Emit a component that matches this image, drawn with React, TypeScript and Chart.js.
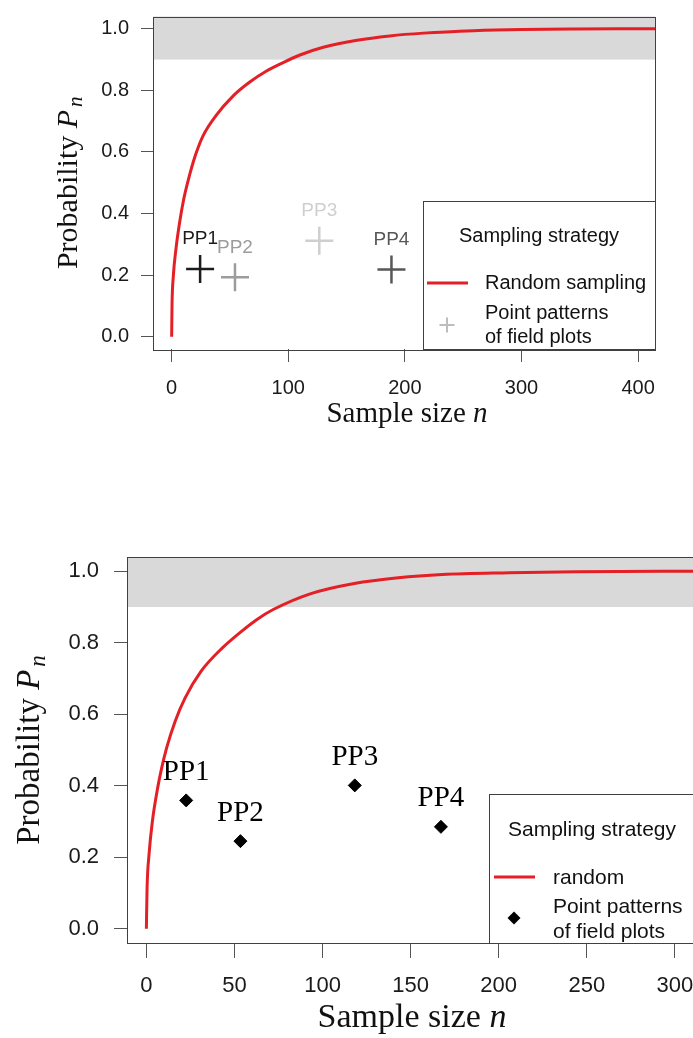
import React, { useEffect, useRef } from 'react';
import { Chart, registerables } from 'chart.js';

Chart.register(...registerables);

// ---------------- Data: top panel ----------------
const topCurveN = [0, 0.3, 1.4, 3.7, 7, 10, 14, 20, 27, 38, 53, 67, 81, 96, 110, 130, 159, 187, 216, 259, 300, 345, 416];
const topCurveP = [0, 0.1, 0.195, 0.285, 0.375, 0.44, 0.505, 0.585, 0.653, 0.718, 0.783, 0.827, 0.862, 0.891, 0.915, 0.94, 0.963, 0.977, 0.986, 0.994, 0.998, 0.9995, 1.0];
const topPlotNames = ['PP1', 'PP2', 'PP3', 'PP4'];
const topPlotN = [24.4, 54.3, 126.6, 188.5];
const topPlotP = [0.22, 0.193, 0.312, 0.218];
const topPlotColors = ['#1c1c1c', '#9c9c9c', '#cfcfcf', '#575757'];
const topXTicks = [0, 100, 200, 300, 400];
const topXTickLabels = ['0', '100', '200', '300', '400'];
const topLegendItems = ['Random sampling', 'Point patterns', 'of field plots'];

// ---------------- Data: bottom panel ----------------
const botCurveN = [0, 0.4, 1.5, 3.4, 6.4, 8.7, 11.5, 16.3, 22, 31, 43, 54, 63, 72, 93, 118, 143, 168, 206, 244, 312];
const botCurveP = [0, 0.114, 0.207, 0.3, 0.394, 0.45, 0.506, 0.58, 0.646, 0.72, 0.785, 0.832, 0.866, 0.893, 0.937, 0.966, 0.982, 0.991, 0.996, 0.999, 1.0];
const botPlotNames = ['PP1', 'PP2', 'PP3', 'PP4'];
const botPlotN = [22.6, 53.4, 118.3, 167.2];
const botPlotP = [0.359, 0.245, 0.401, 0.285];
const botXTicks = [0, 50, 100, 150, 200, 250, 300];
const botXTickLabels = ['0', '50', '100', '150', '200', '250', '300'];
const botLegendItems = ['random', 'Point patterns', 'of field plots'];

// shared
const yTicks = [0, 0.2, 0.4, 0.6, 0.8, 1.0];
const yTickLabels = ['0.0', '0.2', '0.4', '0.6', '0.8', '1.0'];
const bandFrom = 0.9;
const legendTitle = 'Sampling strategy';
const xTitle = 'Sample size ';
const xTitleVar = 'n';
const yTitle = 'Probability ';
const yTitleVar = 'P';
const yTitleSub = 'n';

const SANS = '"Liberation Sans", Arial, Helvetica, sans-serif';
const SERIF = '"Liberation Serif", "Times New Roman", Times, serif';
const RED = '#e41f25';
const BAND = '#d9d9d9';
const BOX = '#404040';

type Spec = {
  canvasW: number; canvasH: number; top: number;
  pad: { left: number; top: number; right: number; bottom: number };
  yAxisW: number; xAxisH: number;
  xMin: number; xMax: number; yMin: number; yMax: number;
  curveN: number[]; curveP: number[];
  ppN: number[]; ppP: number[]; ppNames: string[]; ppColors: string[];
  ppStyle: 'cross' | 'rectRot'; ppRadius: number; ppBorder: number;
  labelFont: string; labelOffset: number;
  xTicks: number[]; xTickLabels: string[];
  tickSize: number; xTickLen: number; xTickPad: number; yTickLen: number; yTickPad: number;
  legend: {
    left: number; top: number; font: string; titleX: number; titleY: number;
    lineX1: number; lineX2: number; lineY: number; textX: number;
    t1Y: number; markX: number; markY: number; t2Y: number; t3Y: number;
    markColor: string; markR: number; items: string[];
  };
  xTitle: { cx: number; base: number; size: number };
  yTitle: { base: number; size: number };
};

function drawMarker(ctx: CanvasRenderingContext2D, style: string, x: number, y: number, r: number, color: string, lw: number) {
  ctx.save();
  ctx.strokeStyle = color;
  ctx.fillStyle = color;
  ctx.lineWidth = lw;
  ctx.beginPath();
  if (style === 'cross') {
    ctx.moveTo(x - r, y); ctx.lineTo(x + r, y);
    ctx.moveTo(x, y - r); ctx.lineTo(x, y + r);
    ctx.stroke();
  } else {
    ctx.moveTo(x - r, y); ctx.lineTo(x, y - r); ctx.lineTo(x + r, y); ctx.lineTo(x, y + r);
    ctx.closePath();
    ctx.fill();
  }
  ctx.restore();
}

function makeChart(canvas: HTMLCanvasElement, s: Spec) {
  const curve = s.curveN.map((n, i) => ({ x: n, y: s.curveP[i] }));
  const pts = s.ppN.map((n, i) => ({ x: n, y: s.ppP[i] }));

  const decor = {
    id: 'decor',
    beforeDatasetsDraw(chart: any) {
      const { ctx, chartArea: a, scales } = chart;
      const yb = scales.y.getPixelForValue(bandFrom);
      ctx.save();
      ctx.fillStyle = BAND;
      ctx.fillRect(a.left, a.top, a.right - a.left, yb - a.top);
      ctx.restore();
    },
    afterDatasetsDraw(chart: any) {
      const { ctx, chartArea: a } = chart;
      // point labels
      const meta = chart.getDatasetMeta(1);
      ctx.save();
      ctx.font = s.labelFont;
      ctx.textAlign = 'center';
      ctx.textBaseline = 'middle';
      meta.data.forEach((el: any, i: number) => {
        ctx.fillStyle = s.ppColors[i];
        ctx.fillText(s.ppNames[i], el.x, el.y - s.labelOffset);
      });
      ctx.restore();

      // legend
      const L = s.legend;
      ctx.save();
      ctx.fillStyle = '#ffffff';
      ctx.fillRect(L.left, L.top, a.right - L.left, a.bottom - L.top);
      ctx.strokeStyle = BOX;
      ctx.lineWidth = 1;
      ctx.strokeRect(L.left + 0.5, L.top + 0.5, a.right - L.left, a.bottom - L.top);
      ctx.fillStyle = '#111';
      ctx.font = L.font;
      ctx.textBaseline = 'middle';
      ctx.textAlign = 'center';
      ctx.fillText(legendTitle, L.titleX, L.titleY);
      ctx.textAlign = 'left';
      ctx.fillText(L.items[0], L.textX, L.t1Y);
      ctx.fillText(L.items[1], L.textX, L.t2Y);
      ctx.fillText(L.items[2], L.textX, L.t3Y);
      ctx.strokeStyle = RED;
      ctx.lineWidth = 3;
      ctx.beginPath();
      ctx.moveTo(L.lineX1, L.lineY);
      ctx.lineTo(L.lineX2, L.lineY);
      ctx.stroke();
      ctx.restore();
      drawMarker(ctx, s.ppStyle, L.markX, L.markY, L.markR, L.markColor, 2);

      // plot box
      ctx.save();
      ctx.strokeStyle = BOX;
      ctx.lineWidth = 1;
      ctx.strokeRect(Math.round(a.left) + 0.5, Math.round(a.top) + 0.5, Math.round(a.right - a.left), Math.round(a.bottom - a.top));
      ctx.restore();

      // axis titles
      ctx.save();
      ctx.fillStyle = '#111';
      ctx.textBaseline = 'alphabetic';
      // x title
      const xs = s.xTitle.size;
      ctx.font = `${xs}px ${SERIF}`;
      const w1 = ctx.measureText(xTitle).width;
      ctx.font = `italic ${xs}px ${SERIF}`;
      const w2 = ctx.measureText(xTitleVar).width;
      const x0 = s.xTitle.cx - (w1 + w2) / 2;
      ctx.textAlign = 'left';
      ctx.font = `${xs}px ${SERIF}`;
      ctx.fillText(xTitle, x0, s.xTitle.base);
      ctx.font = `italic ${xs}px ${SERIF}`;
      ctx.fillText(xTitleVar, x0 + w1, s.xTitle.base);
      // y title (rotated)
      const ys = s.yTitle.size;
      const subS = Math.round(ys * 0.7);
      ctx.font = `${ys}px ${SERIF}`;
      const v1 = ctx.measureText(yTitle).width;
      ctx.font = `italic ${ys}px ${SERIF}`;
      const v2 = ctx.measureText(yTitleVar).width;
      ctx.font = `italic ${subS}px ${SERIF}`;
      const v3 = ctx.measureText(yTitleSub).width;
      const gap = 3;
      const tot = v1 + v2 + gap + v3;
      const cy = (a.top + a.bottom) / 2;
      ctx.translate(s.yTitle.base, cy);
      ctx.rotate(-Math.PI / 2);
      const t0 = -tot / 2;
      ctx.font = `${ys}px ${SERIF}`;
      ctx.fillText(yTitle, t0, 0);
      ctx.font = `italic ${ys}px ${SERIF}`;
      ctx.fillText(yTitleVar, t0 + v1, 0);
      ctx.font = `italic ${subS}px ${SERIF}`;
      ctx.fillText(yTitleSub, t0 + v1 + v2 + gap, ys * 0.17);
      ctx.restore();
    },
  };

  return new Chart(canvas, {
    type: 'scatter',
    data: {
      datasets: [
        {
          data: curve,
          showLine: true,
          borderColor: RED,
          borderWidth: 3,
          pointRadius: 0,
          cubicInterpolationMode: 'monotone',
          fill: false,
        } as any,
        {
          data: pts,
          pointStyle: s.ppStyle,
          pointRadius: s.ppRadius,
          pointBorderWidth: s.ppBorder,
          pointBorderColor: s.ppColors,
          pointBackgroundColor: s.ppColors,
          showLine: false,
        } as any,
      ],
    },
    options: {
      animation: false,
      responsive: false,
      maintainAspectRatio: false,
      devicePixelRatio: 1,
      events: [],
      layout: { padding: s.pad },
      plugins: { legend: { display: false }, tooltip: { enabled: false }, title: { display: false } },
      scales: {
        x: {
          type: 'linear',
          position: 'bottom',
          min: s.xMin,
          max: s.xMax,
          afterBuildTicks: (axis: any) => { axis.ticks = s.xTicks.map((v) => ({ value: v })); },
          afterFit: (axis: any) => { axis.height = s.xAxisH; axis.paddingLeft = 0; axis.paddingRight = 0; },
          grid: { display: true, drawOnChartArea: false, drawTicks: true, tickLength: s.xTickLen, color: '#555', lineWidth: 1 },
          border: { display: false },
          ticks: {
            autoSkip: false, maxRotation: 0, minRotation: 0, padding: s.xTickPad, color: '#1a1a1a',
            font: { family: SANS, size: s.tickSize },
            callback: (_v: any, i: number) => s.xTickLabels[i],
          },
        },
        y: {
          type: 'linear',
          position: 'left',
          min: s.yMin,
          max: s.yMax,
          afterBuildTicks: (axis: any) => { axis.ticks = yTicks.map((v) => ({ value: v })); },
          afterFit: (axis: any) => { axis.width = s.yAxisW; axis.paddingTop = 0; axis.paddingBottom = 0; },
          grid: { display: true, drawOnChartArea: false, drawTicks: true, tickLength: s.yTickLen, color: '#555', lineWidth: 1 },
          border: { display: false },
          ticks: {
            autoSkip: false, padding: s.yTickPad, color: '#1a1a1a',
            font: { family: SANS, size: s.tickSize },
            callback: (_v: any, i: number) => yTickLabels[i],
          },
        },
      },
    } as any,
    plugins: [decor],
  });
}

const topSpec: Spec = {
  canvasW: 693, canvasH: 440, top: 0,
  pad: { left: 0, top: 8, right: 38, bottom: 0 },
  yAxisW: 153, xAxisH: 91,
  xMin: -16, xMax: 414.5, yMin: -0.04, yMax: 1.04,
  curveN: topCurveN, curveP: topCurveP,
  ppN: topPlotN, ppP: topPlotP, ppNames: topPlotNames, ppColors: topPlotColors,
  ppStyle: 'cross', ppRadius: 14, ppBorder: 2.5,
  labelFont: `19px ${SANS}`, labelOffset: 30,
  xTicks: topXTicks, xTickLabels: topXTickLabels,
  tickSize: 20, xTickLen: 13, xTickPad: 14, yTickLen: 12, yTickPad: 12,
  legend: {
    left: 423, top: 201, font: `20px ${SANS}`, titleX: 539, titleY: 236,
    lineX1: 427, lineX2: 468, lineY: 283, textX: 485,
    t1Y: 283, markX: 447, markY: 325, t2Y: 313, t3Y: 337,
    markColor: '#bdbdbd', markR: 7.5, items: topLegendItems,
  },
  xTitle: { cx: 407, base: 422, size: 29 },
  yTitle: { base: 77, size: 30 },
};

const botSpec: Spec = {
  canvasW: 720, canvasH: 498, top: 540,
  pad: { left: 0, top: 17, right: 24, bottom: 0 },
  yAxisW: 127, xAxisH: 95,
  xMin: -11, xMax: 312, yMin: -0.04, yMax: 1.04,
  curveN: botCurveN, curveP: botCurveP,
  ppN: botPlotN, ppP: botPlotP, ppNames: botPlotNames, ppColors: ['#000', '#000', '#000', '#000'],
  ppStyle: 'rectRot', ppRadius: 6.5, ppBorder: 1,
  labelFont: `29px ${SERIF}`, labelOffset: 28,
  xTicks: botXTicks, xTickLabels: botXTickLabels,
  tickSize: 22, xTickLen: 15, xTickPad: 15, yTickLen: 13, yTickPad: 15,
  legend: {
    left: 489, top: 254, font: `21px ${SANS}`, titleX: 592, titleY: 290,
    lineX1: 494, lineX2: 535, lineY: 337, textX: 553,
    t1Y: 338, markX: 514, markY: 378, t2Y: 367, t3Y: 392,
    markColor: '#000', markR: 6.5, items: botLegendItems,
  },
  xTitle: { cx: 412, base: 487, size: 34 },
  yTitle: { base: 39, size: 33 },
};

function Panel({ spec }: { spec: Spec }) {
  const ref = useRef<HTMLCanvasElement>(null);
  useEffect(() => {
    if (!ref.current) return;
    const chart = makeChart(ref.current, spec);
    return () => chart.destroy();
  }, [spec]);
  return (
    <canvas
      ref={ref}
      width={spec.canvasW}
      height={spec.canvasH}
      style={{ position: 'absolute', left: 0, top: spec.top, width: spec.canvasW, height: spec.canvasH }}
    />
  );
}

export default function App() {
  return (
    <div style={{ position: 'fixed', left: 0, top: 0, width: 693, height: 1038, overflow: 'hidden', background: '#fff' }}>
      <Panel spec={topSpec} />
      <Panel spec={botSpec} />
    </div>
  );
}
